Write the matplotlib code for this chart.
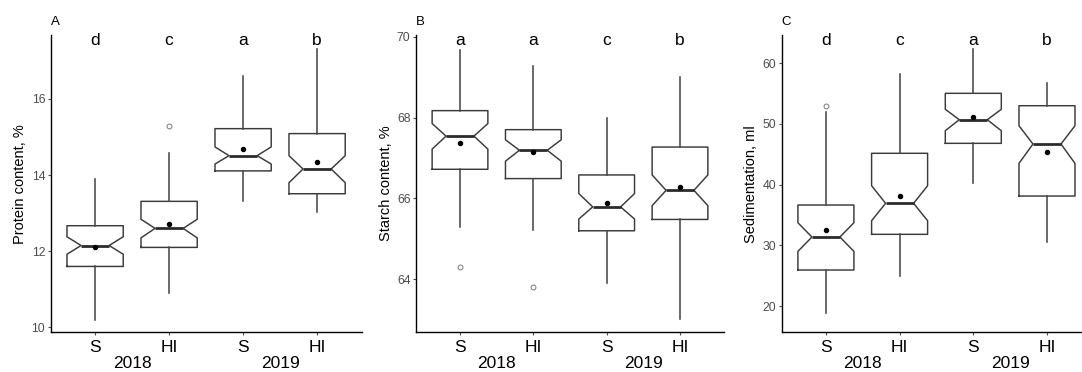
import matplotlib.pyplot as plt

plt.rcParams['font.family'] = ['Liberation Sans', 'DejaVu Sans']

groups = ["S", "HI", "S", "HI"]
years = ["2018", "2019"]

# A - protein content
prot_med = [12.15, 12.6, 14.51, 14.16]
prot_q1 = [11.6, 12.1, 14.11, 13.51]
prot_q3 = [12.67, 13.31, 15.22, 15.09]
prot_lo = [10.18, 10.89, 13.32, 13.02]
prot_hi = [13.89, 14.59, 16.6, 17.32]
prot_mean = [12.11, 12.71, 14.69, 14.34]
prot_cilo = [11.92, 12.35, 14.29, 13.8]
prot_cihi = [12.38, 12.84, 14.74, 14.51]
prot_out = [[], [15.3], [], []]
prot_letters = ["d", "c", "a", "b"]

# B - starch content
starch_med = [67.54, 67.19, 65.79, 66.2]
starch_q1 = [66.72, 66.49, 65.2, 65.48]
starch_q3 = [68.17, 67.7, 66.58, 67.27]
starch_lo = [65.3, 65.21, 63.92, 63.01]
starch_hi = [69.68, 69.27, 67.99, 68.99]
starch_mean = [67.37, 67.15, 65.88, 66.29]
starch_cilo = [67.22, 66.92, 65.49, 65.82]
starch_cihi = [67.85, 67.45, 66.12, 66.58]
starch_out = [[64.3], [63.81], [], []]
starch_letters = ["a", "a", "c", "b"]

# C - sedimentation
sed_med = [31.37, 36.92, 50.69, 46.69]
sed_q1 = [25.93, 31.81, 46.8, 38.12]
sed_q3 = [36.64, 45.16, 55.04, 53.0]
sed_lo = [18.8, 24.94, 40.21, 30.49]
sed_hi = [51.9, 58.22, 62.34, 56.8]
sed_mean = [32.52, 38.12, 51.09, 45.32]
sed_cilo = [29.0, 34.05, 48.88, 43.5]
sed_cihi = [33.72, 39.82, 52.41, 49.7]
sed_out = [[52.9], [], [], []]
sed_letters = ["d", "c", "a", "b"]

W, H = 1082, 372
fig = plt.figure(figsize=(W / 100, H / 100), dpi=100)

box_col = '#3a3a3a'


def panel(left_px, width_px, tag, ylabel, ylim, yticks, med, q1, q3, lo, hi, mean, cilo, cihi, out, letters):
    ax = fig.add_axes([left_px / W, (H - 332.3) / H, width_px / W, 297.3 / H])
    stats = []
    for i in range(len(groups)):
        stats.append(dict(med=med[i], q1=q1[i], q3=q3[i], whislo=lo[i], whishi=hi[i],
                          mean=mean[i], cilo=cilo[i], cihi=cihi[i], fliers=out[i]))
    ax.bxp(stats, positions=[1, 2, 3, 4], widths=0.76, shownotches=True, showmeans=True,
           showcaps=False,
           boxprops=dict(color=box_col, lw=1.05),
           whiskerprops=dict(color='#484848', lw=1.15),
           medianprops=dict(color='#2b2b2b', lw=2.0),
           meanprops=dict(marker='o', markerfacecolor='black', markeredgecolor='black', markersize=2.9),
           flierprops=dict(marker='o', markerfacecolor='none', markeredgecolor='#777777',
                           markersize=3.5, markeredgewidth=0.7))
    ax.set_xlim(0.4, 4.6)
    ax.set_ylim(*ylim)
    ax.set_yticks(yticks)
    ax.set_xticks([1, 2, 3, 4])
    ax.set_xticklabels(groups, fontsize=12.5, color='black')
    ax.tick_params(axis='y', labelsize=8.8, labelcolor='#4d4d4d', color='#4d4d4d', length=2.5, width=0.8, pad=1.5)
    ax.tick_params(axis='x', color='#4d4d4d', length=2.5, width=0.8, pad=3)
    for s in ['top', 'right']:
        ax.spines[s].set_visible(False)
    for s in ['left', 'bottom']:
        ax.spines[s].set_linewidth(1.0)
        ax.spines[s].set_color('black')
    ax.set_ylabel(ylabel, fontsize=10.5, labelpad=3)
    tr = ax.get_xaxis_transform()
    for i, l in enumerate(letters):
        ax.text(i + 1, 0.966, l, transform=tr, ha='center', va='baseline', fontsize=12.5)
    ax.text(1.5, -0.12, years[0], transform=tr, ha='center', va='baseline', fontsize=12.5)
    ax.text(3.5, -0.12, years[1], transform=tr, ha='center', va='baseline', fontsize=12.5)
    ax.text(0.0, 1.034, tag, transform=ax.transAxes, ha='left', va='baseline', fontsize=9.5)
    return ax


panel(50.7, 310.8, "A", "Protein content, %", (9.87, 17.68), [10, 12, 14, 16],
      prot_med, prot_q1, prot_q3, prot_lo, prot_hi, prot_mean, prot_cilo, prot_cihi, prot_out, prot_letters)
panel(416, 308, "B", "Starch content, %", (62.69, 70.04), [64, 66, 68, 70],
      starch_med, starch_q1, starch_q3, starch_lo, starch_hi, starch_mean, starch_cilo, starch_cihi,
      starch_out, starch_letters)
panel(781.7, 309.5, "C", "Sedimentation, ml", (15.67, 64.65), [20, 30, 40, 50, 60],
      sed_med, sed_q1, sed_q3, sed_lo, sed_hi, sed_mean, sed_cilo, sed_cihi, sed_out, sed_letters)

fig.savefig("out.png", dpi=100)
